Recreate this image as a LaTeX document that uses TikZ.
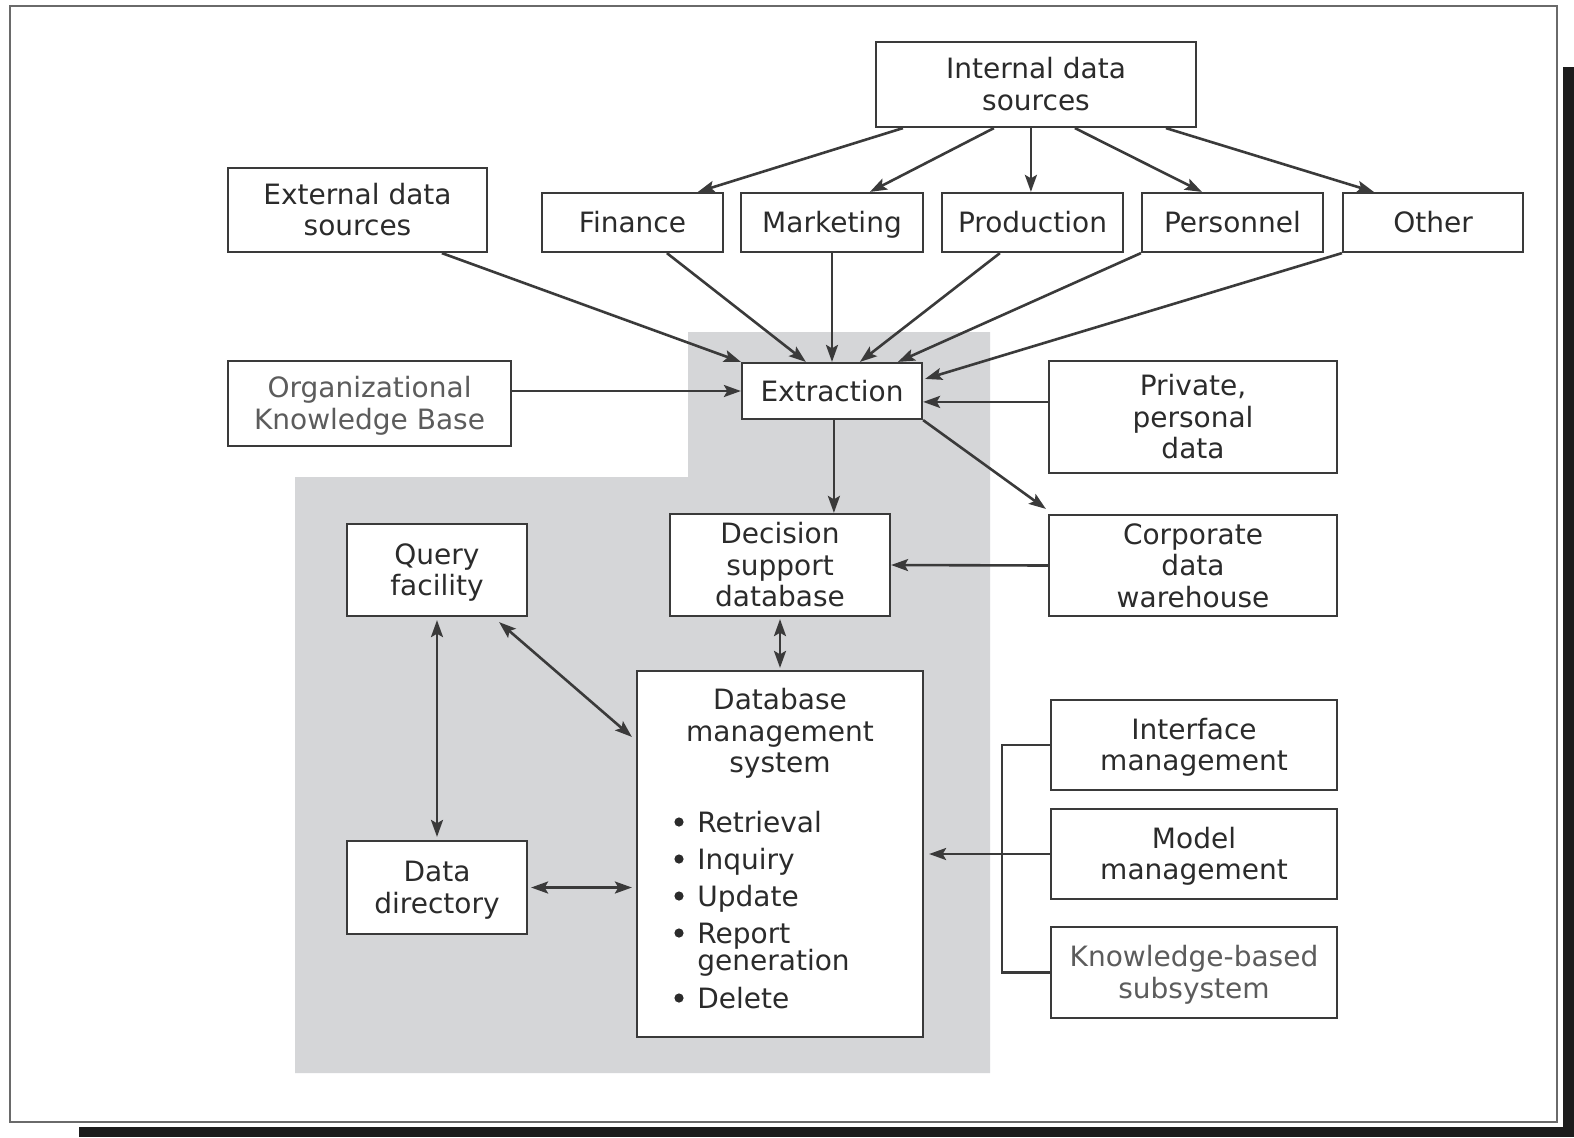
\documentclass[tikz,border=0pt]{standalone}
\usepackage{fontspec}
\setmainfont{DejaVu Sans}
\usetikzlibrary{arrows.meta,calc}
\definecolor{ink}{HTML}{2B2B2B}
\definecolor{lineink}{HTML}{3A3A3A}
\definecolor{shadegray}{HTML}{D5D6D8}
\definecolor{greytext}{HTML}{5C5C5C}
\definecolor{framec}{HTML}{6A6A6A}
\definecolor{shadowc}{HTML}{1C1C1C}
\newcommand{\vtopstr}{\rule[-3.5pt]{0pt}{17pt}}
\newcommand{\vbotstr}{\rule[-3.5pt]{0pt}{3.5pt}}
\tikzset{
  box/.style={draw=lineink, line width=1.1pt, fill=white, text=ink, align=center, inner sep=0pt,
    font=\fontsize{14}{15.75}\selectfont},
  lbl/.style={text=ink, inner sep=0pt, font=\fontsize{14}{15.75}\selectfont},
  dot/.style={circle, fill=ink, inner sep=0pt, minimum size=4.6pt},
  conn/.style={draw=lineink, line width=1.3pt},
  arr/.style={conn, -{Stealth[length=8.5pt,width=6pt,inset=1.7pt]}},
  darr/.style={conn, {Stealth[length=8.5pt,width=6pt,inset=1.7pt]}-{Stealth[length=8.5pt,width=6pt,inset=1.7pt]}},
}
\newcommand{\bx}[7][]{\node[box,#1,minimum width={(#4-#2)*0.5pt},minimum height={(#5-#3)*0.5pt}] (#6) at ({(#2+#4)/2},{(#3+#5)/2}) {\vtopstr #7\vbotstr};}
\begin{document}
\begin{tikzpicture}[x=0.5pt,y=-0.5pt]
\fill[white] (0,0) rectangle (1574,1137);
\useasboundingbox (0,0) rectangle (1574,1137);
% frame and shadow
\fill[shadowc] (1563,67) rectangle (1574,1137);
\fill[shadowc] (79,1127) rectangle (1574,1137);
\draw[framec, line width=1pt] (10,6) rectangle (1557,1122);
% gray region
\fill[shadegray] (688,332) -- (990,332) -- (990,1073) -- (295,1073) -- (295,477) -- (688,477) -- cycle;
% boxes
\bx{876}{42}{1196}{127}{int}{Internal data\\sources}
\bx{228}{168}{487}{252}{ext}{External data\\sources}
\bx{542}{193}{723}{252}{fin}{Finance}
\bx{741}{193}{923}{252}{mkt}{Marketing}
\bx{942}{193}{1123}{252}{prod}{Production}
\bx{1142}{193}{1323}{252}{pers}{Personnel}
\bx{1343}{193}{1523}{252}{oth}{Other}
\bx[text=greytext]{228}{361}{511}{446}{okb}{Organizational\\Knowledge Base}
\bx{742}{363}{922}{419}{extr}{Extraction}
\bx{1049}{361}{1337}{473}{priv}{Private,\\personal\\data}
\bx{670}{514}{890}{616}{dsd}{Decision\\support\\database}
\bx{1049}{515}{1337}{616}{corp}{Corporate\\data\\warehouse}
\bx{347}{524}{527}{616}{qf}{Query\\facility}
\bx{347}{841}{527}{934}{dd}{Data\\directory}
\bx{637}{671}{923}{1037}{dbms}{}
\bx{1051}{700}{1337}{790}{im}{Interface\\management}
\bx{1051}{809}{1337}{899}{mm}{Model\\management}
\bx[text=greytext]{1051}{927}{1337}{1018}{kbs}{Knowledge-based\\subsystem}
% DBMS contents
\node[lbl, align=center] (dbmst) at (780,731) {\vtopstr Database\\management\\system\vbotstr};
\node[dot] (u1) at (679,822) {};
\node[lbl, anchor=base west] (t1) at (697,832) {Retrieval};
\node[dot] (u2) at (679,859) {};
\node[lbl, anchor=base west] (t2) at (697,869) {Inquiry};
\node[dot] (u3) at (679,896) {};
\node[lbl, anchor=base west] (t3) at (697,906) {Update};
\node[dot] (u4) at (679,933) {};
\node[lbl, anchor=base west] (t4) at (697,943) {Report};
\node[lbl, anchor=base west] (t4b) at (697,970) {generation};
\node[dot] (u5) at (679,998) {};
\node[lbl, anchor=base west] (t5) at (697,1008) {Delete};
% internal fan-out
\draw[arr] ($(int.south west)+(28,0)$) -- ($(fin.north west)+(157,0)$);
\draw[arr] ($(int.south west)+(119,0)$) -- ($(mkt.north west)+(130,0)$);
\draw[arr] ($(int.south west)+(156,0)$) -- ($(prod.north west)+(90,0)$);
\draw[arr] ($(int.south west)+(200,0)$) -- ($(pers.north west)+(61,0)$);
\draw[arr] ($(int.south west)+(291,0)$) -- ($(oth.north west)+(32,0)$);
% into extraction
\draw[arr] ($(ext.south west)+(215,0)$) -- (extr.north west);
\draw[arr] ($(fin.south west)+(126,0)$) -- ($(extr.north west)+(65,0)$);
\draw[arr] (mkt.south) -- (extr.north);
\draw[arr] ($(prod.south west)+(59,0)$) -- ($(extr.north west)+(119,0)$);
\draw[arr] (pers.south west) -- ($(extr.north west)+(157,0)$);
\draw[arr] (oth.south west) -- ($(extr.north east)+(2,17)$);
\draw[arr] (okb.east |- extr.west) -- (extr.west);
\draw[arr] ($(priv.north west)+(0,42)$) -- ($(extr.north east)+(0,40)$);
% out of extraction
\draw[arr] ($(extr.south west)+(93,0)$) -- ($(dsd.north west)+(165,0)$);
\draw[arr] (extr.south east) -- ($(corp.north west)+(-2,-5)$);
\draw[arr] (corp.west) -- (dsd.east);
% lower part
\draw[darr, shorten <=1pt, shorten >=1pt] (dsd.south) -- (dbms.north);
\draw[darr, shorten <=1.5pt, shorten >=1.5pt] (qf.south) -- (dd.north);
\draw[darr] ($(qf.south east)+(-29,5)$) -- ($(dbms.north west)+(-4,67)$);
\draw[darr, shorten <=1.5pt, shorten >=2pt] (dd.east) -- (dbms.west |- dd.east);
\draw[conn] (im.west) -- ++(-48,0) coordinate (brk) |- (kbs.west);
\draw[arr, shorten >=2.5pt] (mm.west) -- (dbms.east |- mm.west);
\end{tikzpicture}
\end{document}
